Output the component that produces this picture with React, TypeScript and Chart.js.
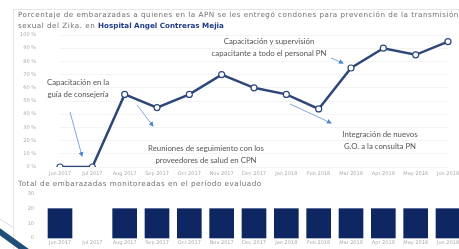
import React, { useEffect, useRef } from "react";
import { Chart, registerables } from "chart.js";

Chart.register(...registerables);

const months = [
  "Jun 2017", "Jul 2017", "Aug 2017", "Sep 2017", "Oct 2017", "Nov 2017", "Dec 2017",
  "Jan 2018", "Feb 2018", "Mar 2018", "Apr 2018", "May 2018", "Jun 2018",
];
const percentValues = [0, 0, 55, 45, 55, 70, 60, 55, 44, 75, 90, 85, 95];
const monitoredCounts: (number | null)[] = [20, null, 20, 20, 20, 20, 20, 20, 20, 20, 20, 20, 20];
const percentMax = 100;
const percentStep = 10;
const countMax = 30;
const countStep = 10;

const titleLine1 =
  "Porcentaje de embarazadas a quienes en la APN se les entregó condones para prevención de la transmisión";
const titleLine2a = "sexual del Zika. en ";
const titleLine2b = "Hospital Angel Contreras Mejia";
const barTitle = "Total de embarazadas monitoreadas en el período evaluado";

const notes = [
  { lines: ["Capacitación en la", "guía de consejería"], x: 78, y: 76 },
  { lines: ["Reuniones de seguimiento con los", "proveedores de salud en CPN"], x: 206, y: 142 },
  { lines: ["Capacitación y supervisión", "capacitante a todo el personal PN"], x: 269, y: 35 },
  { lines: ["Integración de nuevos", "G.O. a la consulta PN"], x: 380, y: 128 },
];

const LINE_COLOR = "#2d4778";
const BAR_COLOR = "#0e2763";
const TICK_COLOR = "#ababab";

export default function App() {
  const lineRef = useRef<HTMLCanvasElement>(null);
  const barRef = useRef<HTMLCanvasElement>(null);

  useEffect(() => {
    document.body.style.margin = "0";
    document.body.style.overflow = "hidden";
    const tickFont = { family: "DejaVu Sans", size: 5 };

    const fitX = (h: number) => (s: any) => {
      s.height = h;
      s.paddingLeft = 0;
      s.paddingRight = 0;
    };
    const fitY = (s: any) => {
      s.width = 60;
      s.paddingTop = 0;
      s.paddingBottom = 0;
    };

    const lineChart = new Chart(lineRef.current!, {
      type: "line",
      data: {
        labels: months,
        datasets: [
          {
            data: percentValues,
            borderColor: LINE_COLOR,
            borderWidth: 2.5,
            pointRadius: 3,
            pointBorderWidth: 1.2,
            pointBackgroundColor: "#ffffff",
            pointBorderColor: LINE_COLOR,
            tension: 0,
          },
        ],
      },
      options: {
        animation: false,
        responsive: false,
        maintainAspectRatio: false,
        layout: { padding: { top: 7, right: 11, left: 0, bottom: 0 } },
        plugins: { legend: { display: false }, tooltip: { enabled: false } },
        scales: {
          x: {
            offset: false,
            grid: { display: false, drawTicks: false },
            border: { display: false },
            ticks: { color: TICK_COLOR, font: tickFont, padding: 4, maxRotation: 0, autoSkip: false },
            afterFit: fitX(13),
          },
          y: {
            min: 0,
            max: percentMax,
            grid: { color: "rgba(0,0,0,0.045)", drawTicks: false },
            border: { display: false },
            ticks: {
              stepSize: percentStep,
              color: TICK_COLOR,
              font: tickFont,
              padding: 24,
              callback: (v: any) => v + " %",
            },
            afterFit: fitY,
          },
        },
      },
    });

    const barChart = new Chart(barRef.current!, {
      type: "bar",
      data: {
        labels: months,
        datasets: [
          {
            data: monitoredCounts,
            backgroundColor: BAR_COLOR,
            barThickness: 24,
            clip: false as any,
          },
        ],
      },
      options: {
        animation: false,
        responsive: false,
        maintainAspectRatio: false,
        layout: { padding: { top: 6, right: 11, left: 0, bottom: 0 } },
        plugins: { legend: { display: false }, tooltip: { enabled: false } },
        scales: {
          x: {
            offset: false,
            grid: { display: false, drawTicks: false },
            border: { display: false },
            ticks: { color: TICK_COLOR, font: tickFont, padding: 2, maxRotation: 0, autoSkip: false },
            afterFit: fitX(11),
          },
          y: {
            min: 0,
            max: countMax,
            grid: { display: false, drawTicks: false },
            border: { display: false },
            ticks: { stepSize: countStep, color: TICK_COLOR, font: tickFont, padding: 26 },
            afterFit: fitY,
          },
        },
      },
    });

    return () => {
      lineChart.destroy();
      barChart.destroy();
    };
  }, []);

  const titleStyle: React.CSSProperties = {
    position: "absolute",
    left: 18,
    fontFamily: "DejaVu Sans",
    fontSize: 7.2,
    color: "#707070",
    whiteSpace: "nowrap",
    letterSpacing: 0.5,
    lineHeight: "10px",
    willChange: "transform",
  };

  return (
    <div style={{ position: "relative", width: 459, height: 249, overflow: "hidden", background: "#fff" }}>
      <div
        style={{
          position: "absolute",
          left: 13,
          top: 9,
          width: 470,
          height: 260,
          border: "1px solid #e6e6e6",
          boxSizing: "border-box",
        }}
      />
      <div style={{ ...titleStyle, top: 10 }}>{titleLine1}</div>
      <div style={{ ...titleStyle, top: 21 }}>
        {titleLine2a}
        <span style={{ color: "#1f3c88", fontWeight: "bold", letterSpacing: 0 }}>{titleLine2b}</span>
      </div>
      <canvas
        ref={lineRef}
        width={459}
        height={152}
        style={{ position: "absolute", left: 0, top: 28, width: 459, height: 152 }}
      />
      <div style={{ ...titleStyle, top: 179 }}>{barTitle}</div>
      <canvas
        ref={barRef}
        width={459}
        height={61}
        style={{ position: "absolute", left: 0, top: 188, width: 459, height: 61 }}
      />
      <svg width={459} height={249} style={{ position: "absolute", left: 0, top: 0 }}>
        <defs>
          <marker id="ah" markerWidth="5" markerHeight="5" refX="4" refY="2.5" orient="auto">
            <path d="M0,0 L5,2.5 L0,5 z" fill="#4f86d0" />
          </marker>
        </defs>
        <line x1={70} y1={112} x2={82} y2={156} stroke="#7fa8de" strokeWidth={1} markerEnd="url(#ah)" />
        <line x1={137} y1={105} x2={153} y2={126} stroke="#7fa8de" strokeWidth={1} markerEnd="url(#ah)" />
        <line x1={331} y1={58} x2={343} y2={63} stroke="#7fa8de" strokeWidth={1} markerEnd="url(#ah)" />
        <line x1={290} y1={104} x2={331} y2={123} stroke="#7fa8de" strokeWidth={1} markerEnd="url(#ah)" />
        <line x1={0} y1={219} x2={14} y2={228} stroke="#d8dde3" strokeWidth={1} />
        <line x1={-4} y1={229} x2={32} y2={255} stroke="#1f4e79" strokeWidth={6} />
      </svg>
      {notes.map((n, i) => (
        <div
          key={i}
          style={{
            position: "absolute",
            left: n.x - 80,
            top: n.y,
            width: 160,
            textAlign: "center",
            fontFamily: "Lato",
            fontSize: 7.8,
            lineHeight: "12px",
            color: "#555",
            whiteSpace: "nowrap",
            willChange: "transform",
          }}
        >
          {n.lines.map((l, j) => (
            <div key={j}>{l}</div>
          ))}
        </div>
      ))}
    </div>
  );
}
